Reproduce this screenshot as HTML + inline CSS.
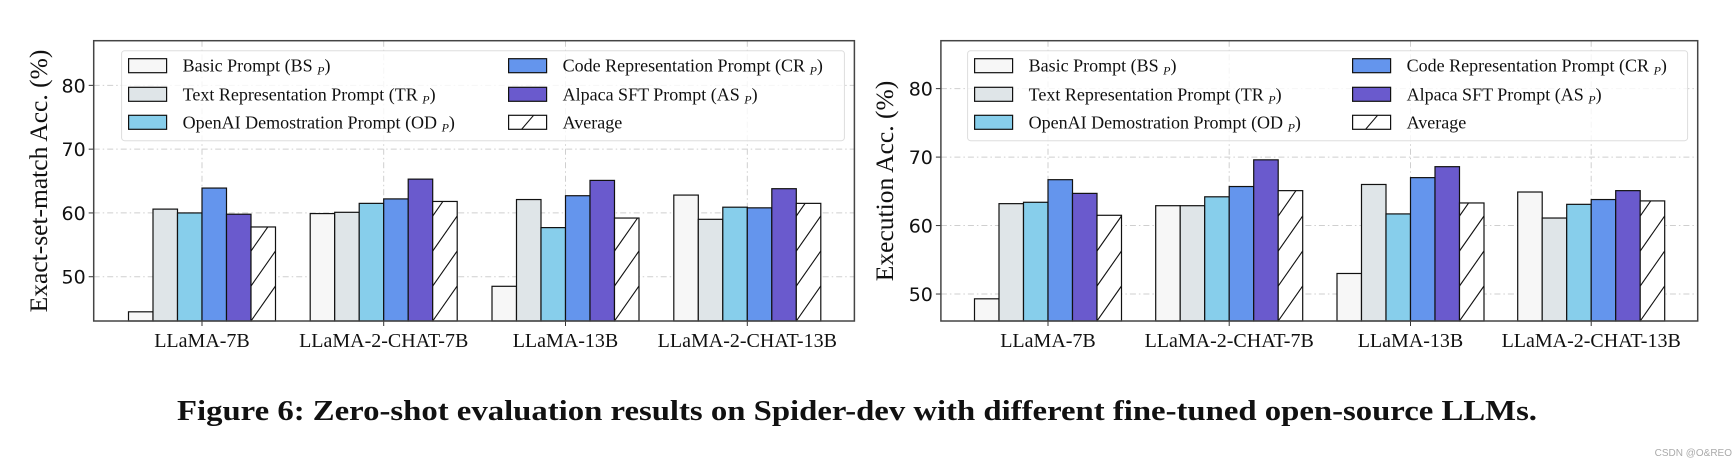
<!DOCTYPE html>
<html><head><meta charset="utf-8"><style>
html,body{margin:0;padding:0;background:#fff;}
svg{display:block;}
</style></head><body>
<svg id="fig" width="1734" height="466" viewBox="0 0 1734 466" xmlns="http://www.w3.org/2000/svg">
<g id="charts"></g>
<text x="857" y="420" text-anchor="middle" font-family="Liberation Serif, serif" font-weight="bold" font-size="28" textLength="1360" lengthAdjust="spacingAndGlyphs" fill="#111">Figure 6: Zero-shot evaluation results on Spider-dev with different fine-tuned open-source LLMs.</text>
<text x="1732" y="456" text-anchor="end" font-family="Liberation Sans, sans-serif" font-size="10" fill="#aaa">CSDN @O&amp;REO</text>
</svg>
<script>
const categories = ["LLaMA-7B","LLaMA-2-CHAT-7B","LLaMA-13B","LLaMA-2-CHAT-13B"];
const seriesNames = ["Basic Prompt (BS","Text Representation Prompt (TR","OpenAI Demostration Prompt (OD","Code Representation Prompt (CR","Alpaca SFT Prompt (AS","Average"];
const emBS = [44.5, 59.9, 48.5, 62.8];
const emTR = [60.6, 60.1, 62.1, 59.0];
const emOD = [60.0, 61.5, 57.7, 60.9];
const emCR = [63.9, 62.2, 62.7, 60.8];
const emAS = [59.8, 65.3, 65.1, 63.8];
const emAVG = [57.8, 61.8, 59.2, 61.5];
const exBS = [49.3, 62.9, 53.0, 64.9];
const exTR = [63.2, 62.9, 66.0, 61.1];
const exOD = [63.4, 64.2, 61.7, 63.1];
const exCR = [66.7, 65.7, 67.0, 63.8];
const exAS = [64.7, 69.6, 68.6, 65.1];
const exAVG = [61.5, 65.1, 63.3, 63.6];
const yTicks = [50, 60, 70, 80];

const NS = "http://www.w3.org/2000/svg";
const colors = ["#f7f7f7","#dfe5e8","#87ceeb","#6495ed","#6a5acd","#ffffff"];
const root = document.getElementById('charts');
let clipId = 0;
function mk(tag, attrs, parent){const e=document.createElementNS(NS,tag);for(const k in attrs)e.setAttribute(k,attrs[k]);(parent||root).appendChild(e);return e;}

function hatch(g, x, y, w, h){
  const id='hc'+(clipId++);
  const cp=mk('clipPath',{id:id},g);
  mk('rect',{x:x,y:y,width:w,height:h},cp);
  const hg=mk('g',{'clip-path':'url(#'+id+')'},g);
  const step=35;
  for(let yy=y+h+step; yy>y-step; yy-=step){
    const l=mk('line',{x1:x,y1:yy,x2:x+w,y2:yy-step,stroke:'#111','stroke-width':1.1},hg);
    
    
  }
}

function chart(cfg){
  const g=mk('g',{});
  
  
  const {L,R,T,B,ymin,ymax,centers,series,ytitle,ytx,legX,legW,bw}=cfg;
  const ys=v=>B-(v-ymin)/(ymax-ymin)*(B-T);
  yTicks.forEach(t=>{
    const gl=mk('line',{x1:L,x2:R,y1:ys(t),y2:ys(t),stroke:'#cfcfcf','stroke-width':1,'stroke-dasharray':'6,3,1.5,3'},g);
    
    
    const tl=mk('line',{x1:L-5,x2:L,y1:ys(t),y2:ys(t),stroke:'#333','stroke-width':1},g);
    
    
    const tx=mk('text',{x:L-8,y:ys(t)+7,'text-anchor':'end','font-family':'DejaVu Sans, sans-serif','font-size':19,fill:'#111'},g);
    tx.textContent=t;
    
    
  });
  centers.forEach(c=>{
    const gl=mk('line',{x1:c,x2:c,y1:T,y2:B,stroke:'#cfcfcf','stroke-width':1,'stroke-dasharray':'6,3,1.5,3'},g);
    
    
  });
  categories.forEach((cat,i)=>{
    series.forEach((arr,s)=>{
      const x=centers[i]+(s-3)*bw, y=ys(arr[i]), h=B-y;
      const r=mk('rect',{x:x,y:y,width:bw,height:h,fill:colors[s],stroke:'#111','stroke-width':1.2},g);
      
      
      if(s===5) hatch(g,x,y,bw,h);
    });
    const xl=mk('text',{x:centers[i],y:347,'text-anchor':'middle','font-family':'Liberation Serif, serif','font-size':20,fill:'#111'},g);
    xl.textContent=cat;
    
    
    const xt=mk('line',{x1:centers[i],x2:centers[i],y1:B,y2:B+5,stroke:'#333'},g);
    
    
  });
  const lg2=mk('g',{},g);
  
  
  mk('rect',{x:legX,y:T+10,width:legW,height:90,rx:3,fill:'#fff','fill-opacity':0.8,stroke:'#ddd','stroke-width':1},lg2);
  const rowsY=[65.7,94.3,122.3];
  seriesNames.forEach((n,s)=>{
    const col=Math.floor(s/3), row=s%3;
    const px=legX+7+col*cfg.col2, py=rowsY[row];
    const pr=mk('rect',{x:px,y:py-7,width:38,height:14,fill:colors[s],stroke:'#111','stroke-width':1.2},lg2);
    
    
    if(s===5){mk('line',{x1:px+13,y1:py+7,x2:px+25,y2:py-7,stroke:'#111','stroke-width':1.1},lg2);}
    const t=mk('text',{x:px+54,y:py+6,'font-family':'Liberation Serif, serif','font-size':18,fill:'#111'},lg2);
    
    
    if(s<5){
      t.textContent=n+' ';
      const sub=mk('tspan',{'font-size':12,'font-style':'italic',dy:3},t);sub.textContent='P';
      const cl=mk('tspan',{dy:-3},t);cl.textContent=')';
    } else t.textContent=n;
  });
  const fr=mk('rect',{x:L,y:T,width:R-L,height:B-T,fill:'none',stroke:'#444','stroke-width':1.5},g);
  
  
  const yt=mk('text',{x:0,y:0,transform:`translate(${ytx},${cfg.ytc}) rotate(-90)`,'text-anchor':'middle','font-family':'Liberation Serif, serif','font-size':25.5,fill:'#111'},g);
  yt.textContent=ytitle;
  
  
}

chart({name:'exact-match-chart',L:93.7,R:854.4,T:40.7,B:321,ymin:43.06,ymax:87,
  centers:[202,383.7,565.5,747.3],series:[emBS,emTR,emOD,emCR,emAS,emAVG],
  ytitle:'Exact-set-match Acc. (%)',ytx:47,ytc:181,legX:121.6,legW:722.8,bw:24.5,col2:380});
chart({name:'execution-chart',L:940.9,R:1697.7,T:40.7,B:321,ymin:46.06,ymax:87,
  centers:[1048,1229.2,1410.5,1591.2],series:[exBS,exTR,exOD,exCR,exAS,exAVG],
  ytitle:'Execution Acc. (%)',ytx:893,ytc:181,legX:967.6,legW:720,bw:24.5,col2:378});
</script>
</body></html>
